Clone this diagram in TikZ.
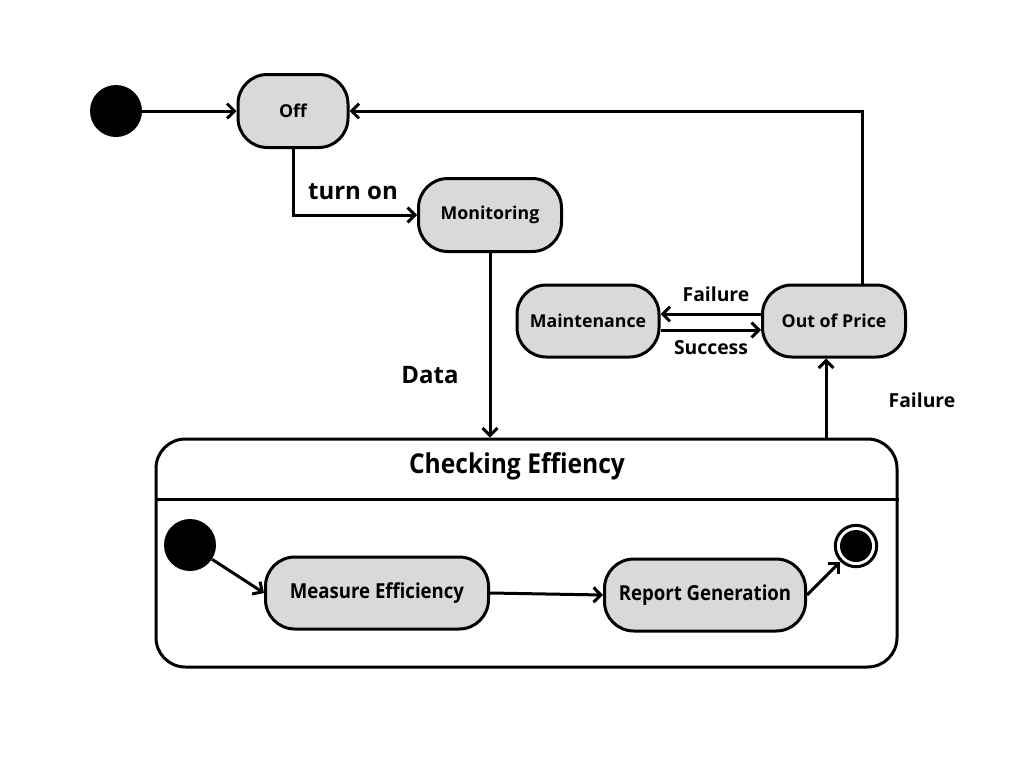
\documentclass[tikz,border=0pt]{standalone}
\usepackage{fontspec}
\setmainfont{Open Sans}
\newfontfamily\condfont{Open Sans}[FakeStretch=0.9]
\usetikzlibrary{arrows.meta,calc}
\definecolor{statefill}{HTML}{D9D9D9}
\tikzset{
  lw/.style={line width=2.25pt},
  state/.style={draw, lw, fill=statefill, rounded corners=22pt, inner sep=0pt,
    minimum height=54pt, font=\fontsize{13.3}{15}\selectfont\bfseries},
  cstate/.style={state, font=\condfont\fontsize{15.5}{17}\selectfont\bfseries},
  initdot/.style={circle, fill=black, minimum size=39pt, inner sep=0pt},
  arr/.style={lw, -{Straight Barb[length=5.5pt,width=11pt]}},
  lab/.style={font=\fontsize{14.5}{16}\selectfont\bfseries},
  biglab/.style={font=\fontsize{18}{20}\selectfont\bfseries}
}
\begin{document}
\begin{tikzpicture}[x=0.75pt,y=-0.75pt]
\useasboundingbox (0,0) rectangle (1024,768);
% composite state
\node[draw, lw, rounded corners=22pt, minimum width=555.75pt, minimum height=171pt, inner sep=0pt] (comp) at (526.5,553) {};
\draw[lw] (comp.west |- 0,499) -- (comp.east |- 0,499);
\node[font=\condfont\fontsize{20.5}{23}\selectfont\bfseries] (ctitle) at (517,466) {Checking Effiency};
% states
\node[initdot] (init) at (116,111) {};
\node[state, minimum width=82.5pt, minimum height=54.75pt] (off) at (293,111) {Off};
\node[state, minimum width=107.25pt, minimum height=54.75pt] (mon) at (490,215) {Monitoring};
\node[state, minimum width=106.5pt] (maint) at (588,321) {Maintenance};
\node[state, minimum width=107.25pt] (op) at (834,321) {Out of Price};
\node[initdot] (init2) at (190,545) {};
\node[cstate, minimum width=167.25pt] (me) at (377,593) {Measure Efficiency};
\node[cstate, minimum width=150.75pt] (rg) at (705,595) {Report Generation};
\node[circle, draw, lw, fill=white, minimum size=31pt, inner sep=0pt] (fin) at (856,546) {};
\fill (fin.center) circle (12pt);
% connectors
\draw[arr] (init) -- (off);
\draw[arr] (off.south) |- (mon.west);
\node[biglab] (turnon) at (353,192) {turn on};
\draw[arr] (mon.south) -- (mon.south |- comp.north);
\node[biglab] (data) at (430,375) {Data};
\draw[arr] ([yshift=5.25pt]op.west) -- ([yshift=5.25pt]maint.east);
\node[lab] (fail1) at (716,294) {Failure};
\draw[arr] ([yshift=-6.75pt]maint.east) -- ([yshift=-6.75pt]op.west);
\node[lab] (succ) at (711,348) {Success};
\draw[arr] ([xshift=21pt]op.north) |- (off.east);
\coordinate (fa) at ([xshift=-6pt]op.south);
\draw[arr] (fa |- comp.north) -- (fa);
\node[lab] (fail2) at (922,400) {Failure};
\draw[arr] (init2) -- (me.west);
\draw[arr] (me.east) -- (rg.west);
\draw[arr] (rg.east) -- (fin);
\end{tikzpicture}
\end{document}
